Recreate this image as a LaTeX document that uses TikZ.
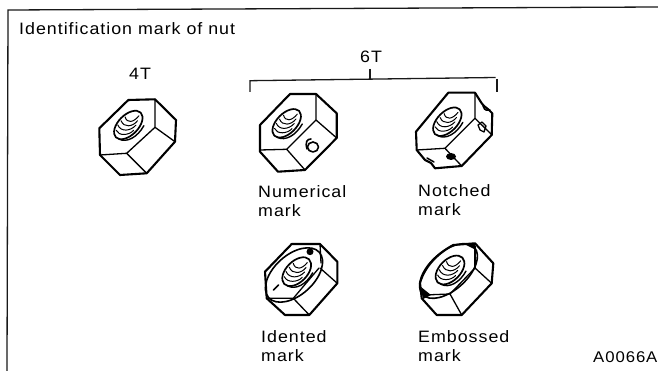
\documentclass[tikz,border=0pt]{standalone}
\usepackage{fontspec}
\setmainfont[LetterSpace=6,FakeStretch=1.08]{Liberation Sans}
\usetikzlibrary{calc}
\tikzset{
  outline/.style={line width=2.1pt,line join=round,line cap=round,black},
  edge/.style={line width=1.3pt,line join=round,line cap=round,black},
  thread/.style={line width=1pt,line cap=round,black},
  rule/.style={line width=1.3pt,black!90},
  lbl/.style={anchor=base west,inner sep=0pt,font=\fontsize{16.5}{18}\selectfont,text=black}
}
\newcommand{\nuthole}[4]{% x, y, major, minor
  \begin{scope}[shift={(#1,#2)},rotate=45]
    \draw[edge,line width=1.7pt] (0,0) ellipse [x radius=#3pt,y radius=#4pt];
    \draw[thread] (-.7*#3,-.5*#4) .. controls (-.85*#3,.1*#4) and (-.4*#3,.8*#4) .. (0*#3,.75*#4);
    \draw[thread] (-.42*#3,-.75*#4) .. controls (-.6*#3,0) and (-.15*#3,.6*#4) .. (.3*#3,.55*#4);
    \draw[thread] (-.12*#3,-.8*#4) .. controls (-.3*#3,-.1*#4) and (.1*#3,.45*#4) .. (.55*#3,.35*#4);
    \draw[thread] (.2*#3,-.8*#4) .. controls (0*#3,-.2*#4) and (.3*#3,.2*#4) .. (.8*#3,.1*#4);
    \draw[thread,line width=1.4pt] (-.95*#3,.3*#4) .. controls (-.8*#3,1.2*#4) and (-.1*#3,1.5*#4) .. (.6*#3,1.15*#4);
  \end{scope}
}
\begin{document}
\begin{tikzpicture}[x=1pt,y=-1pt]
\useasboundingbox (0,0) rectangle (658,371);
% frame
\draw[rule] (658,7) -- (8,10) -- (7,371);
% labels
\node[lbl] (title) at (19,35) {Identification mark of nut};
\node[lbl] (fourT) at (129,80) {4T};
\node[lbl] (sixT) at (360,63) {6T};
\node[lbl] (numA) at (258,198) {Numerical};
\node[lbl] (numB) at (258,217) {mark};
\node[lbl] (notA) at (418,197) {Notched};
\node[lbl] (notB) at (418,216) {mark};
\node[lbl] (ideA) at (261,342) {Idented};
\node[lbl] (ideB) at (261,361) {mark};
\node[lbl] (embA) at (418,342) {Embossed};
\node[lbl] (embB) at (418,361) {mark};
\node[lbl,font=\fontsize{15.5}{18}\selectfont] (code) at (593,362) {A0066A};
% bracket
\coordinate (bl) at (250,92);
\coordinate (bm) at (370,69);
\draw[rule] (bl) -- (250,80.7) -- (495.5,77.5);
\draw[rule] (497,79) -- (497,92.5);
\draw[rule] (bm) -- (370,79);
% nut 4T
\draw[outline] (128.3,100) -- (155,99.3) -- (176,120) -- (175,141.7) -- (146.7,173.3) -- (120,175) -- (100,155) -- (99.3,128.3) -- cycle;
\draw[edge] (155,99.3) -- (155,127.3) -- (126.7,153.3) -- (100,155);
\draw[edge] (155,127.3) -- (175,141.7);
\draw[edge] (126.7,153.3) -- (146.7,173.3);
\nuthole{128.3}{125}{17.5}{10}
% nut numerical
\draw[outline] (290,94) -- (316,94) -- (336.7,113.3) -- (336.7,138) -- (305,170) -- (278,171.7) -- (260,151.7) -- (260,125) -- cycle;
\draw[edge] (316,94) -- (316,120) -- (286.7,149.3) -- (260,150);
\draw[edge] (316,120) -- (336.7,138);
\draw[edge] (286.7,149.3) -- (305,170);
\nuthole{286.7}{123.3}{17.5}{10}
\draw[edge,line width=1.6pt] (313,147) ellipse [x radius=5.5pt,y radius=5pt];
\draw[edge,line width=1.6pt] (307,149) .. controls (305,142) and (307,139) .. (311,139);
% nut notched
\draw[outline] (416,131.7) -- (448.3,92.7) -- (475,92.7) -- (481.7,103.3) -- (484,106) -- (489,110) -- (492.3,113.3) -- (491.7,135) -- (461.7,166) -- (435,168.3) -- (431,163) -- (425,160) -- (416.7,150) -- cycle;
\draw[edge] (475,92.7) -- (475,118.3) -- (445,148.3) -- (416.7,150);
\draw[edge] (475,118.3) -- (492,135);
\draw[edge] (445,148.3) -- (461.7,166);
\draw[edge] (478,125) -- (480,130) -- (484,132) -- (486,126) -- (482,122) -- cycle;
\draw[outline,line width=1.5pt] (483,106) .. controls (485,112) and (488,110) .. (490,110);
\draw[outline,line width=1.5pt] (427,158) .. controls (430,160) and (431,160) .. (434,162);
\fill[black] (451,156.5) ellipse [x radius=5pt,y radius=3.5pt];
\nuthole{447.3}{121.7}{17.5}{10}
% nut idented
\draw[outline] (265,271.7) -- (291.7,244) -- (320,244) -- (337.3,261.7) -- (337.3,283.3) -- (309.3,315) -- (285,315) -- (266.7,298.3) -- cycle;
\draw[edge,line width=1.6pt] (294,275) ellipse [x radius=34pt,y radius=20pt,rotate=42];
\draw[edge] (320,244) -- (321,263);
\draw[edge] (320,268) -- (337.3,283.3);
\draw[edge] (319,268) -- (293.3,298.3) -- (266.7,298.3);
\draw[edge] (293.3,298.3) -- (309.3,315);
\fill[black] (310,251.7) circle (3.5pt);
\draw[edge,line width=1.6pt] (273.5,290) -- (278.5,285);
\nuthole{296.7}{271.7}{17.5}{10.5}
% nut embossed
\draw[outline] (421.7,298.3) -- (420,283) .. controls (425,265) and (440,252) .. (453.3,245) -- (475,243.3) -- (493.3,263.3) -- (491.7,283.3) -- (461.7,315) -- (436.7,315) -- cycle;
\draw[edge,line width=1.6pt] (448.5,271) ellipse [x radius=35pt,y radius=19pt,rotate=42];
\draw[edge] (475,246) -- (475,268);
\draw[edge] (475,268) -- (491.7,283.3);
\draw[edge] (475,268) -- (450,294) -- (424,295);
\draw[edge] (450,294) -- (461.7,315);
\fill[black] (465,244.5) -- (476,243) -- (474,249) -- cycle;
\fill[black] (421,287) -- (431,295) -- (423,299) -- cycle;
\nuthole{450}{270}{17.5}{10.5}
\end{tikzpicture}
\end{document}
